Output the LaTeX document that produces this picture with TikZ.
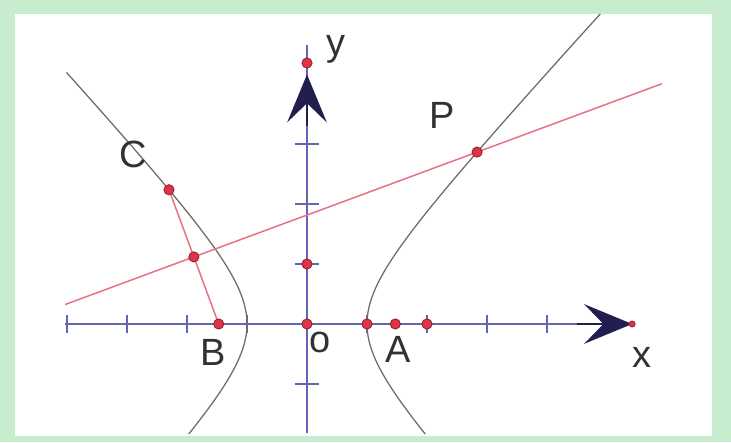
\documentclass[tikz,border=0pt]{standalone}
\usepackage{fontspec}
\setmainfont{Liberation Sans}
\usetikzlibrary{arrows.meta}
\definecolor{bggreen}{RGB}{200,236,206}
\definecolor{axisblue}{RGB}{100,100,180}
\definecolor{curvegrey}{RGB}{115,105,105}
\definecolor{linered}{RGB}{232,112,132}
\definecolor{dotred}{RGB}{222,52,72}
\definecolor{dotdark}{RGB}{150,30,45}
\definecolor{tipnavy}{RGB}{35,30,80}
\definecolor{labgrey}{RGB}{50,50,50}
\begin{document}
\begin{tikzpicture}[
  axis/.style={draw=axisblue, line width=0.9pt},
  hyp/.style={draw=curvegrey, line width=0.6pt},
  redline/.style={draw=linered, line width=0.7pt},
  dot/.style={circle, fill=dotred, draw=dotdark, line width=0.4pt, inner sep=0pt, minimum size=0.17cm},
  lab/.style={text=labgrey, font=\fontsize{18}{18}\selectfont},
  bigtip/.style={draw=tipnavy, line width=0.9pt, -{Stealth[length=0.8cm, width=0.66cm, inset=0.32cm, fill=tipnavy]}}
]
\fill[bggreen] (-5.117,-1.967) rectangle (7.067,5.4);
\fill[white] (-4.867,-1.867) rectangle (6.75,5.167);
% axes
\draw[axis] (-4.03,0) -- (5.42,0);
\draw[axis] (0,-1.82) -- (0,4.65);
\foreach \i in {-4,-3,-2,-1,1,2,3,4} \draw[axis] (\i,-0.15) -- (\i,0.15);
\foreach \j in {-1,1,2,3} \draw[axis] (-0.2,\j) -- (0.2,\j);
\draw[bigtip] (4.5,0) -- (5.42,0);
\draw[bigtip] (0,3.3) -- (0,4.16);
% hyperbola
\draw[hyp] plot[domain=-1.30:2.066, samples=80, smooth] ({-cosh(\x)}, {1.08*sinh(\x)});
\draw[hyp] plot[domain=-1.30:2.27, samples=80, smooth] ({cosh(\x)}, {1.08*sinh(\x)});
% points
\coordinate (C) at (-2.30,2.237);
\coordinate (B) at (-1.472,0);
\coordinate (M) at (-1.886,1.118);
\coordinate (P) at (2.835,2.865);
\coordinate (L) at (-4.03,0.325);
\coordinate (R) at (5.917,4.005);
\draw[redline] (L) -- (R);
\draw[redline] (C) -- (B);
\node[dot] (Cd) at (C) {};
\node[dot] (Md) at (M) {};
\node[dot] (Bd) at (B) {};
\node[dot] (Pd) at (P) {};
\node[dot] (O) at (0,0) {};
\node[dot] (V) at (1,0) {};
\node[dot] (A) at (1.472,0) {};
\node[dot] (T) at (2,0) {};
\node[dot] (Y1) at (0,1) {};
\node[dot] (Ytop) at (0,4.35) {};
\node[dot, minimum size=0.1cm] (Xtip) at (5.42,0) {};
% labels
\node[lab] (ylab) at (0.48,4.57) {y};
\node[lab] (xlab) at (5.58,-0.55) {x};
\node[lab] (olab) at (0.22,-0.3) {o};
\node[lab] (Blab) at (-1.57,-0.48) {B};
\node[lab] (Alab) at (1.52,-0.42) {A};
\node[lab] (Plab) at (2.25,3.48) {P};
\node[lab] (Clab) at (-2.9,2.82) {C};
\end{tikzpicture}
\end{document}
